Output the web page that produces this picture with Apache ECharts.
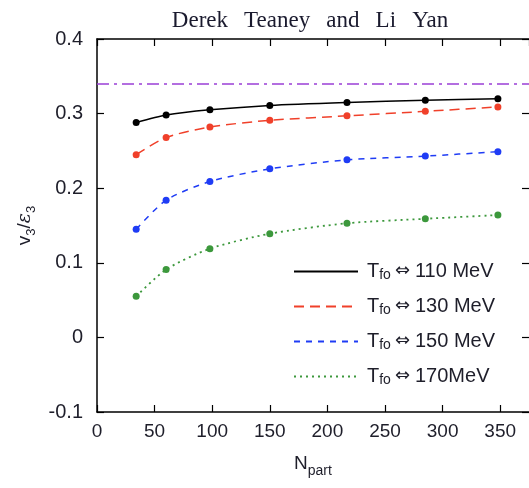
<!DOCTYPE html>
<html><head><meta charset="utf-8">
<script src="https://cdn.jsdelivr.net/npm/echarts@6/dist/echarts.min.js"></script>
<style>html,body{margin:0;padding:0;background:#fff}#c{width:529px;height:488px}</style>
</head><body><div id="c"></div>
<script>
const npart = [34, 60, 98, 150, 217, 285, 348];
const t110 = [0.288, 0.298, 0.305, 0.311, 0.315, 0.318, 0.320];
const t130 = [0.245, 0.268, 0.282, 0.291, 0.297, 0.303, 0.309];
const t150 = [0.145, 0.184, 0.209, 0.226, 0.238, 0.243, 0.249];
const t170 = [0.055, 0.091, 0.119, 0.139, 0.153, 0.159, 0.164];
const idealRef = 0.341;
const seriesNames = ['110 MeV', '130 MeV', '150 MeV', '170MeV'];
const xTicks = [0, 50, 100, 150, 200, 250, 300, 350];
const yTicks = [-0.1, 0, 0.1, 0.2, 0.3, 0.4];

const font = 'Liberation Sans, Arial, sans-serif';
const txt = '#1e1e2a';
function pairs(ys){ return npart.map((x,i)=>[x, ys[i]]); }
const styles = [
  {color:'#000000', type:'solid', w:1.5},
  {color:'#f0402a', type:[10,6], w:1.5},
  {color:'#1f3cf5', type:[6,6], w:1.5},
  {color:'#3c983c', type:[2,4], w:1.8}
];
const datas = [t110, t130, t150, t170];
const series = datas.map((d,i)=>({
  name: seriesNames[i], type:'line', data: pairs(d),
  symbol:'circle', symbolSize:7, smooth:0.25,
  lineStyle:{color:styles[i].color, type:styles[i].type, width:styles[i].w},
  itemStyle:{color:styles[i].color}
}));
series.push({
  type:'line', data:[], silent:true,
  markLine:{symbol:'none', silent:true, label:{show:false},
    lineStyle:{color:'#9a3fd6', type:[12,5,3,5], width:1.5},
    data:[{yAxis: idealRef}]}
});

const axLine = {onZero:false, lineStyle:{color:'#000', width:1.5}};
const axTick = {inside:true, length:7, lineStyle:{color:'#000', width:1.2}};

const chart = echarts.init(document.getElementById('c'));
chart.setOption({
  animation:false,
  title:{text:'Derek\u2002\u2009Teaney\u2002\u2009and\u2002\u2009Li\u2002\u2009Yan', left:305, top:4, textAlign:'center',
    textStyle:{fontFamily:'Liberation Serif, DejaVu Serif, serif', fontWeight:'normal', fontSize:23, color:'#1a1a2e'}},
  grid:{left:97, top:39, right:0, bottom:76},
  legend:{
    orient:'vertical', left:288, top:253, itemWidth:64, itemHeight:20, itemGap:11,
    data: seriesNames,
    itemStyle:{opacity:0},
    formatter: n => '{a|T}{s|fo}{r|\u21D4}{a|' + n + '}',
    textStyle:{fontFamily:font, color:txt, padding:[0,0,0,4],
      rich:{a:{fontSize:20, fontFamily:font, color:txt, lineHeight:21},
            r:{fontSize:18, fontFamily:'DejaVu Sans, sans-serif', color:txt, lineHeight:21, padding:[0,5,0,4]},
            s:{fontSize:14, fontFamily:font, color:txt, verticalAlign:'bottom', lineHeight:21, padding:[10,0,0,0]}}}
  },
  xAxis:[{
    type:'value', min:0, max:375, interval:50,
    name:'{a|N}{s|part}', nameLocation:'middle', nameGap:38,
    nameTextStyle:{rich:{a:{fontSize:19, fontFamily:font, color:txt}, s:{fontSize:14, fontFamily:font, color:txt, padding:[14,0,0,0]}}},
    axisLine:axLine, axisTick:axTick,
    axisLabel:{fontSize:19, fontFamily:font, color:txt, margin:10, showMaxLabel:false,
      formatter: v => xTicks.includes(v) ? String(v) : ''},
    splitLine:{show:false}
  },{
    type:'value', position:'top', min:0, max:375, interval:50,
    axisLine:axLine, axisTick:axTick,
    axisLabel:{show:false}, splitLine:{show:false}
  }],
  yAxis:[{
    type:'value', min:-0.1, max:0.4, interval:0.1,
    name:'{a|v}{s|3}{a|/}{e|ε}{s|3}', nameLocation:'middle', nameGap:58, nameRotate:90,
    nameTextStyle:{rich:{a:{fontSize:19, fontFamily:font, color:txt}, e:{fontSize:19, fontFamily:'DejaVu Serif, serif', fontStyle:'italic', color:txt}, s:{fontSize:13, fontFamily:font, color:txt, padding:[12,0,0,0]}}},
    axisLine:axLine, axisTick:axTick,
    axisLabel:{fontSize:20, fontFamily:font, color:txt, margin:14,
      formatter: v => { const r = Math.round(v*10)/10; return yTicks.includes(r) ? String(r) : ''; }},
    splitLine:{show:false}
  },{
    type:'value', position:'right', min:-0.1, max:0.4, interval:0.1,
    axisLine:{show:false, onZero:false}, axisTick:axTick,
    axisLabel:{show:false}, splitLine:{show:false}
  }],
  series: series
});
</script></body></html>
